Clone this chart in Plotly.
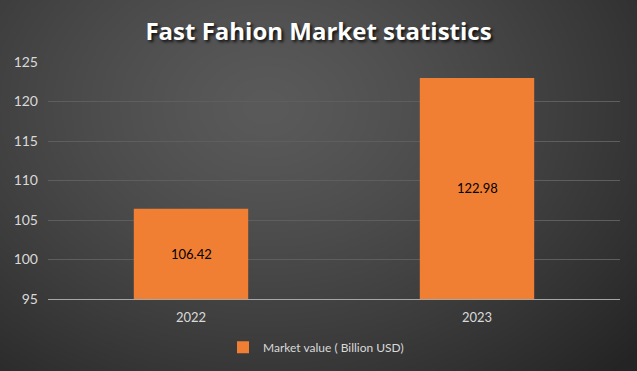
import base64, struct, zlib
import numpy as np
import plotly.graph_objects as go

# ---- data ----
years = [2022, 2023]
market_values = [106.42, 122.98]
series_name = "Market value ( Billion USD)"
y_ticks = [95, 100, 105, 110, 115, 120, 125]
title_text = "Fast Fahion Market statistics"

W, H = 637, 371
ML, MR, MT, MB = 48, 17, 62, 72
PW, PH = W - ML - MR, H - MT - MB
Y_MIN, Y_MAX = y_ticks[0], y_ticks[-1]
PAD = 12  # oversize background image so it fully covers the page


def make_png(w, h):
    yy, xx = np.mgrid[0:h, 0:w].astype(float)
    cx, cy = 0.42 * w, 0.30 * h
    d = np.sqrt(((xx - cx) / (0.75 * w)) ** 2 + ((yy - cy) / (0.95 * h)) ** 2)
    d = np.clip(d, 0, 1)
    inner, outer = 90.0, 36.0
    v = inner + (outer - inner) * d ** 1.3
    img = np.clip(v, 0, 255).astype(np.uint8)
    rgb = np.stack([img, img, img], axis=-1)
    raw = b"".join(b"\x00" + rgb[r].tobytes() for r in range(h))

    def chunk(t, data):
        c = struct.pack(">I", len(data)) + t + data
        return c + struct.pack(">I", zlib.crc32(t + data) & 0xffffffff)

    png = b"\x89PNG\r\n\x1a\n"
    png += chunk(b"IHDR", struct.pack(">IIBBBBB", w, h, 8, 2, 0, 0, 0))
    png += chunk(b"IDAT", zlib.compress(raw, 9))
    png += chunk(b"IEND", b"")
    return "data:image/png;base64," + base64.b64encode(png).decode()


bg = make_png(W + 2 * PAD, H + 2 * PAD)
FONT = "Lato, 'Open Sans', sans-serif"

fig = go.Figure(
    go.Bar(
        x=years,
        y=market_values,
        name=series_name,
        width=0.4,
        marker=dict(color="#F07F34", line=dict(width=0)),
        showlegend=True,
    )
)

# value labels centred in the visible part of each bar
for yr, v in zip(years, market_values):
    fig.add_annotation(
        x=yr, y=(Y_MIN + v) / 2, xref="x", yref="y", text=f"{v:.2f}", showarrow=False,
        font=dict(color="#000000", size=13, family=FONT),
    )

fig.update_layout(
    width=W,
    height=H,
    margin=dict(l=ML, r=MR, t=MT, b=MB, autoexpand=False),
    paper_bgcolor="#2A2A2A",
    plot_bgcolor="rgba(0,0,0,0)",
    font=dict(family=FONT, color="#D9D9D9", size=13),
    title=dict(
        text="<b>" + title_text + "</b>",
        x=0.5,
        xanchor="center",
        y=0.915,
        yanchor="middle",
        font=dict(size=24, color="#FFFFFF", family="'Open Sans', sans-serif",
                  shadow="2px 2px 3px rgba(0,0,0,0.8)"),
    ),
    images=[
        dict(
            source=bg,
            xref="paper",
            yref="paper",
            x=-(ML + PAD) / PW,
            y=1 + (MT + PAD) / PH,
            sizex=(W + 2 * PAD) / PW,
            sizey=(H + 2 * PAD) / PH,
            sizing="stretch",
            xanchor="left",
            yanchor="top",
            layer="below",
        )
    ],
    xaxis=dict(
        type="linear",
        range=[min(years) - 0.5, max(years) + 0.5],
        tickvals=years,
        ticktext=[str(y) for y in years],
        automargin=False,
        showgrid=False,
        zeroline=False,
        showline=True,
        linecolor="#A6A6A6",
        linewidth=1,
        ticks="",
        tickfont=dict(size=13, color="#D9D9D9"),
        ticklabelstandoff=6,
    ),
    yaxis=dict(
        automargin=False,
        range=[Y_MIN, Y_MAX],
        tickvals=y_ticks,
        showgrid=True,
        gridcolor="#5E5E5E",
        gridwidth=1,
        zeroline=False,
        showline=False,
        ticks="",
        tickfont=dict(size=14, color="#D9D9D9"),
        ticklabelstandoff=9,
    ),
    legend=dict(
        orientation="h",
        x=0.5 - 18 / PW,
        xanchor="center",
        yref="container",
        y=0.025,
        yanchor="bottom",
        bgcolor="rgba(0,0,0,0)",
        font=dict(size=12, color="#D9D9D9"),
    ),
)

fig.write_html(
    "out.html",
    config={"displayModeBar": False},
    post_script="document.body.style.margin='0';",
)
